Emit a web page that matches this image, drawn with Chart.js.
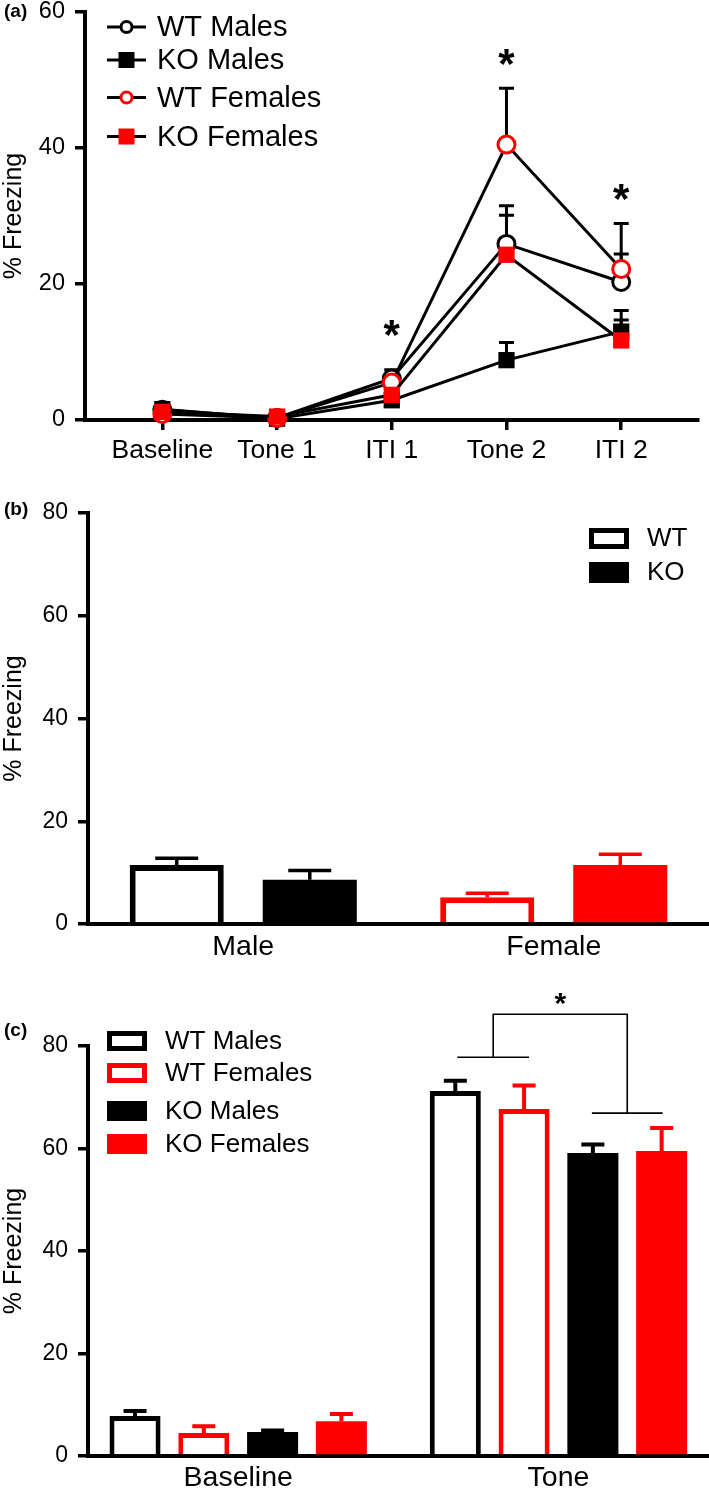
<!DOCTYPE html>
<html>
<head>
<meta charset="utf-8">
<script src="https://cdn.jsdelivr.net/npm/chart.js@4.4.1/dist/chart.umd.min.js"></script>
<style>
  html, body { margin: 0; padding: 0; background: #fff; }
  body { width: 709px; height: 1493px; position: relative; overflow: hidden; }
  canvas { position: absolute; left: 0; }
</style>
</head>
<body>
<canvas id="chartA" width="709" height="490" style="top:-20px"></canvas>
<canvas id="chartB" width="709" height="505" style="top:470px"></canvas>
<canvas id="chartC" width="709" height="518" style="top:975px"></canvas>
<script>
// ---- panel (a): freezing per phase ----
const phasesA = ["Baseline", "Tone 1", "ITI 1", "Tone 2", "ITI 2"];
const wtMalesA = [1.5, 0.3, 6.1, 25.9, 20.3];
const koMalesA = [1.6, 0.2, 2.9, 8.8, 13.0];
const wtFemalesA = [0.9, 0.3, 5.5, 40.5, 22.2];
const koFemalesA = [1.2, 0.5, 3.7, 24.3, 11.7];
const wtMalesSemA = [0.7, 0.3, 1.3, 5.6, 4.1];
const koMalesSemA = [0.5, 0.3, 0.5, 2.6, 3.1];
const wtFemalesSemA = [0.6, 0.3, 1.0, 8.3, 6.7];
const koFemalesSemA = [0.6, 0.3, 0.6, 5.8, 3.0];
const starsA = [null, null, 13.2, 53, 33.2];

// ---- panel (b): by sex ----
const sexB = ["Male", "Female"];
const wtB = [11.5, 5.2];
const koB = [8.6, 11.5];
const wtSemB = [1.3, 0.8];
const koSemB = [1.8, 2.1];

// ---- panel (c): baseline vs tone ----
const phasesC = ["Baseline", "Tone"];
const wtMalesC = [7.8, 71.2];
const wtFemalesC = [4.5, 67.7];
const koMalesC = [4.7, 59.1];
const koFemalesC = [6.8, 59.5];
const wtMalesSemC = [1.0, 2.0];
const wtFemalesSemC = [1.3, 4.6];
const koMalesSemC = [0.3, 1.7];
const koFemalesSemC = [1.4, 4.5];
const bracketC = [77.8, 66.9, 86.2]; // left group line, right group line, top of bracket

const FONT = '"Liberation Sans", Arial, Helvetica, sans-serif';
const RED = '#ff0000';
Chart.defaults.font.family = FONT;
Chart.defaults.color = '#000';
Chart.defaults.animation = false;
Chart.defaults.plugins.legend.display = false;
Chart.defaults.plugins.tooltip.enabled = false;

function yAxis(max, width, tickSize) {
  return {
    min: 0,
    max: max,
    afterBuildTicks: s => {
      s.ticks = [];
      for (let v = 0; v <= max; v += 20) s.ticks.push({ value: v });
    },
    afterFit: s => { s.width = width; },
    ticks: { font: { size: tickSize }, padding: 10, color: '#000' },
    grid: { drawOnChartArea: false, drawTicks: true, tickLength: 10, lineWidth: 3.5, color: '#000' },
    border: { display: true, color: '#000', width: 4 },
    title: { display: true, text: '% Freezing', color: '#000', font: { size: 25, lineHeight: 1.1 }, padding: 0 }
  };
}

// error bars (mean + sem only, like the original)
function makeErrorBars(sems, colors, capWidth, lineWidth, under) {
  function draw(chart) {
    const ctx = chart.ctx;
    const yScale = chart.scales.y;
    ctx.save();
    ctx.lineWidth = lineWidth;
    ctx.lineCap = 'butt';
    chart.data.datasets.forEach((ds, i) => {
      const meta = chart.getDatasetMeta(i);
      meta.data.forEach((el, j) => {
        const raw = ds.data[j];
        const v = typeof raw === 'object' ? raw.y : raw;
        const yTop = yScale.getPixelForValue(v + sems[i][j]);
        ctx.strokeStyle = colors[i][j];
        ctx.beginPath();
        ctx.moveTo(el.x, el.y);
        ctx.lineTo(el.x, yTop);
        ctx.moveTo(el.x - capWidth / 2, yTop);
        ctx.lineTo(el.x + capWidth / 2, yTop);
        ctx.stroke();
      });
    });
    ctx.restore();
  }
  return {
    id: 'errorBars',
    beforeDatasetsDraw(chart) { if (under) draw(chart); },
    afterDatasetsDraw(chart) { if (!under) draw(chart); }
  };
}

function panelLabel(ctx, text, y) {
  ctx.save();
  ctx.font = 'bold 19px ' + FONT;
  ctx.fillStyle = '#000';
  ctx.textAlign = 'left';
  ctx.textBaseline = 'middle';
  ctx.fillText(text, 4, y);
  ctx.restore();
}

function star(ctx, x, yc, size) {
  ctx.save();
  ctx.font = 'bold ' + size + 'px ' + FONT;
  ctx.fillStyle = '#000';
  ctx.textAlign = 'center';
  ctx.textBaseline = 'alphabetic';
  ctx.fillText('*', x, yc + size * 0.44);
  ctx.restore();
}

function legendText(ctx, text, x, y, size) {
  ctx.save();
  ctx.font = size + 'px ' + FONT;
  ctx.fillStyle = '#000';
  ctx.textAlign = 'left';
  ctx.textBaseline = 'middle';
  ctx.fillText(text, x, y);
  ctx.restore();
}

function legendBox(ctx, x, y, w, h, color, open, lw) {
  ctx.save();
  if (open) {
    ctx.strokeStyle = color;
    ctx.lineWidth = lw;
    ctx.strokeRect(x + lw / 2, y + lw / 2, w - lw, h - lw);
  } else {
    ctx.fillStyle = color;
    ctx.fillRect(x, y, w, h);
  }
  ctx.restore();
}

// ================= (a) =================
function serie(label, values, color, shape, order) {
  const open = shape === 'circle';
  return {
    label: label,
    order: order,
    data: values.map((v, i) => ({ x: i, y: v })),
    borderColor: '#000',
    borderWidth: 3,
    tension: 0,
    clip: false,
    pointStyle: shape,
    pointRadius: open ? 8.5 : 11.5,
    pointBorderWidth: open ? 3 : 0,
    pointBorderColor: color,
    pointBackgroundColor: open ? '#fff' : color
  };
}

const decorA = {
  id: 'decorA',
  afterDraw(chart) {
    const ctx = chart.ctx;
    const xs = chart.scales.x, ys = chart.scales.y;
    panelLabel(ctx, '(a)', 32);
    starsA.forEach((v, i) => {
      if (v !== null) star(ctx, xs.getPixelForValue(i), ys.getPixelForValue(v), 42);
    });
    const rows = [47, 80, 117.5, 156.5];
    chart.data.datasets.forEach((ds, i) => {
      const y = rows[i];
      ctx.save();
      ctx.strokeStyle = '#000';
      ctx.lineWidth = 3;
      ctx.beginPath();
      ctx.moveTo(107, y);
      ctx.lineTo(146, y);
      ctx.stroke();
      if (ds.pointStyle === 'circle') {
        ctx.fillStyle = '#fff';
        ctx.strokeStyle = ds.pointBorderColor;
        ctx.beginPath();
        ctx.arc(126.5, y, 5.5, 0, Math.PI * 2);
        ctx.fill();
        ctx.stroke();
      } else {
        ctx.fillStyle = ds.pointBackgroundColor;
        ctx.fillRect(126.5 - 8, y - 8, 16, 16);
      }
      ctx.restore();
      legendText(ctx, ds.label, 157, y + 1, 29);
    });
  }
};

new Chart(document.getElementById('chartA'), {
  type: 'line',
  data: {
    datasets: [
      serie('WT Males', wtMalesA, '#000', 'circle', 3),
      serie('KO Males', koMalesA, '#000', 'rect', 2),
      serie('WT Females', wtFemalesA, RED, 'circle', 1),
      serie('KO Females', koFemalesA, RED, 'rect', 0)
    ]
  },
  options: {
    responsive: false,
    layout: { padding: { top: 32, right: 6, left: 0, bottom: 0 } },
    scales: {
      x: {
        type: 'linear',
        min: -0.674,
        max: 4.665,
        afterBuildTicks: s => { s.ticks = phasesA.map((p, i) => ({ value: i })); },
        afterFit: s => { s.height = 50; },
        ticks: { callback: v => phasesA[v], font: { size: 26.5 }, padding: 5, maxRotation: 0, autoSkip: false, color: '#000' },
        grid: { drawOnChartArea: false, drawTicks: true, tickLength: 10, lineWidth: 3.5, color: '#000' },
        border: { display: true, color: '#000', width: 4 }
      },
      y: yAxis(60, 85, 23.5)
    }
  },
  plugins: [
    makeErrorBars([wtMalesSemA, koMalesSemA, wtFemalesSemA, koFemalesSemA],
      [Array(5).fill('#000'), Array(5).fill('#000'), Array(5).fill('#000'), Array(5).fill('#000')],
      15, 3, true),
    decorA
  ]
});

// ================= (b) =================
const decorB = {
  id: 'decorB',
  afterDraw(chart) {
    const ctx = chart.ctx;
    panelLabel(ctx, '(b)', 40);
    legendBox(ctx, 589, 58, 40, 21, '#000', true, 5);
    legendBox(ctx, 589, 92, 40, 21, '#000', false);
    legendText(ctx, 'WT', 647, 69, 26);
    legendText(ctx, 'KO', 647, 103, 26);
  }
};

new Chart(document.getElementById('chartB'), {
  type: 'bar',
  data: {
    labels: sexB,
    datasets: [
      { label: 'WT', data: wtB, backgroundColor: '#fff', borderColor: ['#000', RED], borderWidth: 6, borderSkipped: 'start' },
      { label: 'KO', data: koB, backgroundColor: ['#000', RED], borderWidth: 0 }
    ]
  },
  options: {
    responsive: false,
    categoryPercentage: 0.857,
    barPercentage: 0.707,
    layout: { padding: { top: 43, right: 0, left: 0, bottom: 0 } },
    scales: {
      x: {
        afterFit: s => { s.height = 51; },
        ticks: { font: { size: 28.5 }, padding: 6, color: '#000' },
        grid: { display: false, drawTicks: false },
        border: { display: true, color: '#000', width: 4 }
      },
      y: yAxis(80, 88, 23)
    }
  },
  plugins: [
    makeErrorBars([wtSemB, koSemB], [['#000', RED], ['#000', RED]], 43, 3.5, false),
    decorB
  ]
});

// ================= (c) =================
function barSet(label, values, color, open) {
  return {
    label: label,
    data: values.map((v, i) => ({ x: i, y: v })),
    backgroundColor: open ? '#fff' : color,
    borderColor: color,
    borderWidth: open ? 5 : 0,
    borderSkipped: 'start'
  };
}

const decorC = {
  id: 'decorC',
  afterDraw(chart) {
    const ctx = chart.ctx;
    const ys = chart.scales.y;
    panelLabel(ctx, '(c)', 56);
    // legend
    const rows = [66, 98, 136, 169];
    chart.data.datasets.forEach((ds, i) => {
      const open = ds.borderWidth > 0;
      legendBox(ctx, 107, rows[i] - 10, 40, 20, ds.borderColor, open, 5);
      legendText(ctx, ds.label, 165, rows[i] + 1, 26);
    });
    // significance bracket on tone bars
    const bx = k => chart.getDatasetMeta(k).data[1].x;
    const yL = ys.getPixelForValue(bracketC[0]);
    const yR = ys.getPixelForValue(bracketC[1]);
    const yT = ys.getPixelForValue(bracketC[2]);
    const l1 = bx(0) + 2, l2 = bx(1) + 5;
    const r1 = bx(2) - 1, r2 = bx(3) + 1;
    const mL = (l1 + l2) / 2, mR = (r1 + r2) / 2;
    ctx.save();
    ctx.strokeStyle = '#000';
    ctx.lineWidth = 1.6;
    ctx.beginPath();
    ctx.moveTo(l1, yL); ctx.lineTo(l2, yL);
    ctx.moveTo(r1, yR); ctx.lineTo(r2, yR);
    ctx.moveTo(mL, yL); ctx.lineTo(mL, yT); ctx.lineTo(mR, yT); ctx.lineTo(mR, yR);
    ctx.stroke();
    ctx.restore();
    star(ctx, (mL + mR) / 2, yT - 14, 30);
  }
};

new Chart(document.getElementById('chartC'), {
  type: 'bar',
  data: {
    datasets: [
      barSet('WT Males', wtMalesC, '#000', true),
      barSet('WT Females', wtFemalesC, RED, true),
      barSet('KO Males', koMalesC, '#000', false),
      barSet('KO Females', koFemalesC, RED, false)
    ]
  },
  options: {
    responsive: false,
    categoryPercentage: 0.859,
    barPercentage: 0.742,
    layout: { padding: { top: 71, right: 0, left: 0, bottom: 0 } },
    scales: {
      x: {
        type: 'linear',
        offset: false,
        min: -0.469,
        max: 1.47,
        afterBuildTicks: s => { s.ticks = phasesC.map((p, i) => ({ value: i })); },
        afterFit: s => { s.height = 37; },
        ticks: { callback: v => phasesC[v], font: { size: 28.5 }, padding: 5, maxRotation: 0, autoSkip: false, color: '#000' },
        grid: { display: false, drawTicks: false, offset: false },
        border: { display: true, color: '#000', width: 4 }
      },
      y: yAxis(80, 88, 23)
    }
  },
  plugins: [
    makeErrorBars([wtMalesSemC, wtFemalesSemC, koMalesSemC, koFemalesSemC],
      [['#000', '#000'], [RED, RED], ['#000', '#000'], [RED, RED]], 23, 4, false),
    decorC
  ]
});
</script>
</body>
</html>
